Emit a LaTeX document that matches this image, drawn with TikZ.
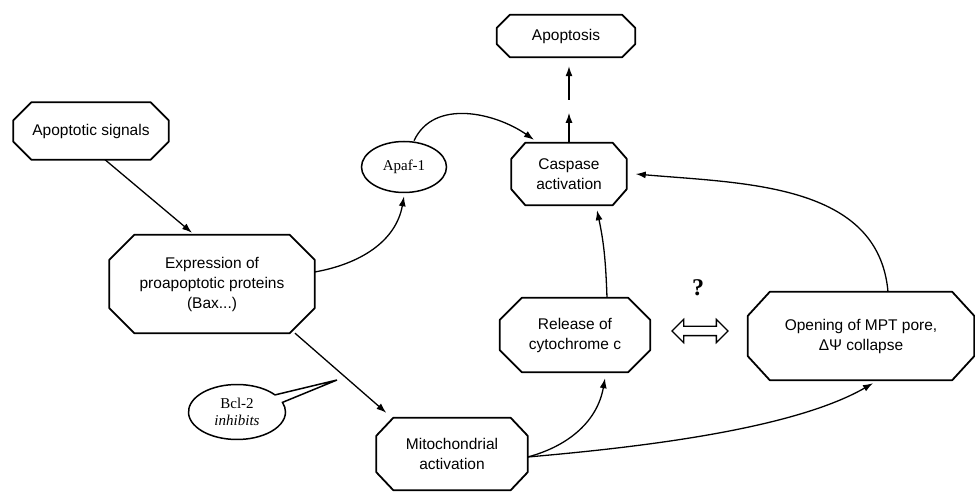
\documentclass[tikz,border=0pt]{standalone}
\usepackage{fontspec}
\setmainfont{Liberation Sans}
\newfontfamily\serifx{Liberation Serif}
\usetikzlibrary{shapes.geometric,shapes.callouts,shapes.arrows,arrows.meta,calc}

\tikzset{
 box/.style={inner sep=0pt, align=center, font=\fontsize{15.5}{20}\selectfont},
 boxline/.style={line width=1.8pt, line join=round},
 arr/.style={line width=1.3pt, -{Latex[length=10pt,width=7pt]}},
 oval/.style={draw, line width=1.5pt, ellipse, inner sep=0pt, align=center, font=\serifx\fontsize{15}{16}\selectfont},
}
\newcommand\octo[3]{\draw[boxline] ([xshift=#2]#1.north west) -- ([xshift=-#2]#1.north east) -- ([yshift=-#3]#1.north east) -- ([yshift=#3]#1.south east) -- ([xshift=-#2]#1.south east) -- ([xshift=#2]#1.south west) -- ([yshift=#3]#1.south west) -- ([yshift=-#3]#1.north west) -- cycle;}

\begin{document}
\begin{tikzpicture}[x=1pt,y=1pt]
\useasboundingbox (0,0) rectangle (975,493);
\node[box, minimum width=155pt, minimum height=57pt] (sig) at (91,362) {Apoptotic signals};
\node[box, minimum width=205pt, minimum height=98pt] (expr) at (212,209) {Expression of\\proapoptotic proteins\\(Bax...)};
\node[oval, minimum width=85pt, minimum height=51pt] (apaf) at (404,326) {Apaf-1};
\node[box, minimum width=138pt, minimum height=42pt] (apop) at (566,457) {Apoptosis};
\node[box, minimum width=115pt, minimum height=62pt] (casp) at (569,319) {Caspase\\activation};
\node[box, minimum width=150pt, minimum height=74pt] (rel) at (575,158) {Release of\\cytochrome c};
\node[box, minimum width=226pt, minimum height=88pt] (mpt) at (861,157) {Opening of MPT pore,\\ΔΨ collapse};
\node[box, minimum width=151pt, minimum height=72pt] (mito) at (452,39) {Mitochondrial\\activation};
\node[ellipse callout, draw, line width=1.5pt, minimum width=97pt, minimum height=55pt, inner sep=0pt, align=center, callout absolute pointer={(337,113)}, callout pointer arc=18, font=\serifx\fontsize{15}{17}\selectfont] (bcl) at (237,81) {Bcl-2\\\textit{inhibits}};
\node[double arrow, draw, line width=1.3pt, minimum height=56pt, inner xsep=0pt, inner ysep=4pt, double arrow head extend=7pt] (dbl) at (700,162) {};
\node[font=\serifx\bfseries\fontsize{24}{24}\selectfont] (q) at (698,205) {?};

\octo{sig}{18pt}{18pt}
\octo{expr}{25pt}{25pt}
\octo{apop}{13pt}{13pt}
\octo{casp}{14pt}{16pt}
\octo{rel}{22pt}{22pt}
\octo{mpt}{22pt}{24pt}
\octo{mito}{17pt}{18pt}

\draw[arr] ([xshift=14pt]sig.south) -- ([xshift=-20pt,yshift=2pt]expr.north);
\draw[arr] ([xshift=83pt]expr.south) -- ([xshift=10pt,yshift=5pt]mito.north west);
\draw[arr] ([yshift=12pt]expr.east) to[out=10,in=-100] ([yshift=-3pt]apaf.south);
\draw[arr] ([xshift=10pt]apaf.north) to[out=65,in=145] ([xshift=-35pt,yshift=3pt]casp.north);
\draw[arr] (casp.north) -- ++(0,30);
\draw[arr] ([yshift=43pt]casp.north) -- ($(casp.north |- apop.south)+(0,-9)$);
\draw[arr] ([xshift=32pt]rel.north) to[out=92,in=-78] ([xshift=28pt,yshift=-5pt]casp.south);
\draw[arr] ([xshift=27pt]mpt.north) to[out=95,in=-5] ([xshift=9pt]casp.east);
\draw[arr] ([yshift=-3pt]mito.east) to[out=15,in=-100] ([xshift=30pt,yshift=-6pt]rel.south);
\draw[arr] ([yshift=-3pt]mito.east) to[out=5,in=-150,looseness=0.7] ([xshift=12pt,yshift=-3pt]mpt.south);
\end{tikzpicture}
\end{document}
